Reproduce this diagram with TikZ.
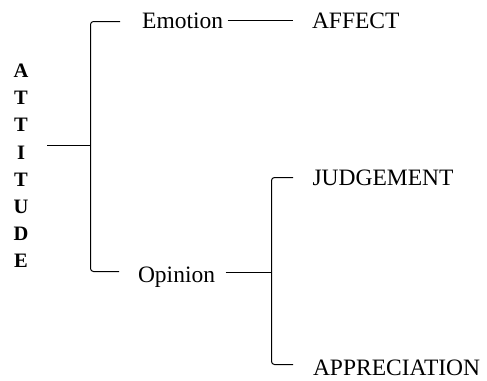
\documentclass[tikz,border=0pt]{standalone}
\usepackage{fontspec}
\setmainfont{Liberation Serif}
\begin{document}
\begin{tikzpicture}[x=1pt,y=-1pt,line width=1pt,
  lbl/.style={font=\fontsize{23.5}{28}\selectfont,inner sep=0pt,anchor=base west},
  brk/.style={rounded corners=3pt}]
\useasboundingbox (0,0) rectangle (487,380);
\node[font=\fontsize{20.5}{27.2}\selectfont\bfseries,align=center,inner sep=0pt] (att) at (21,166)
  {A\\T\\T\\I\\T\\U\\D\\E};
\node[lbl] (emo) at (141.7,28) {Emotion};
\node[lbl] (aff) at (311.5,28) {AFFECT};
\node[lbl] (opi) at (137.5,282) {Opinion};
\node[lbl] (jud) at (312,185) {JUDGEMENT};
\node[lbl] (app) at (312.5,375) {APPRECIATION};
% first bracket
\coordinate (a1) at (47,145.5);
\coordinate (b1) at (90.5,145.5);
\coordinate (b1t) at (120,21.5);
\coordinate (b1b) at (119,271.5);
\draw (a1) -- (b1);
\draw[brk] (b1t) -| (b1) |- (b1b);
\draw[shorten <=4pt,shorten >=19pt] (emo.east) -- (aff.west);
% second bracket
\coordinate (c2) at (271.5,272.5);
\coordinate (c2t) at (293,177.5);
\coordinate (c2b) at (293,364.5);
\draw[shorten <=10pt] (opi.east |- c2) -- (c2);
\draw[brk] (c2t) -| (c2) |- (c2b);
\end{tikzpicture}
\end{document}
